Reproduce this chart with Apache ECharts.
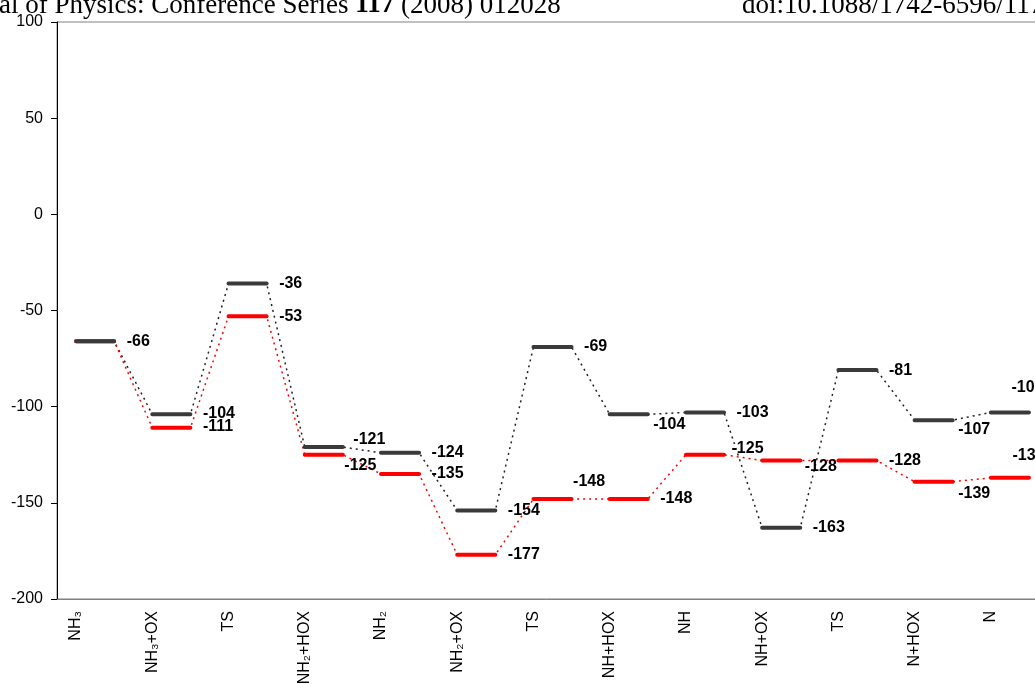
<!DOCTYPE html>
<html>
<head>
<meta charset="utf-8">
<script src="https://cdn.jsdelivr.net/npm/echarts@6/dist/echarts.min.js"></script>
<style>
html, body { margin: 0; padding: 0; background: #fff; }
#chart { width: 1035px; height: 684px; }
</style>
</head>
<body>
<div id="chart"></div>
<script>
// steps of the reaction path
const steps = ['NH₃', 'NH₃+OX', 'TS', 'NH₂+HOX', 'NH₂', 'NH₂+OX', 'TS', 'NH+HOX', 'NH', 'NH+OX', 'TS', 'N+HOX', 'N'];
// energy of each step, black and red path
const blackPath = [-66, -104, -36, -121, -124, -154, -69, -104, -103, -163, -81, -107, -103];
const redPath = [-66, -111, -53, -125, -135, -177, -148, -148, -125, -128, -128, -139, -137];
const yTicks = [-200, -150, -100, -50, 0, 50, 100];

// hand-moved value labels [dx, dy]; null = no label
const blackNudge = [[0, 0], [0, -1], [0, 0], [-2, -7], [0, 0], [0, 0], [0, 0], [-7, 10], [0, 0], [0, 0], [0, 0], [-7, 9], [-30, -25]];
const redNudge = [null, [0, -1], [0, 0], [-11, 11], [0, 0], [0, 0], [-11, -17], [0, 0], [-5, -6], [-8, 6], [0, 0], [-7, 12], [-29, -22]];

// every step takes two slots on the axis: start and end of its level
const slots = [];
steps.forEach(s => slots.push(s, ''));

function pathLine(vals) {
    const out = [];
    vals.forEach(v => out.push(v, v));
    return out;
}

// levels split in two series (even / odd steps) so they don't join up
function levels(vals, parity, nudge) {
    const out = new Array(vals.length * 2).fill('-');
    vals.forEach((v, i) => {
        if (i % 2 !== parity) return;
        out[2 * i] = v;
        out[2 * i + 1] = nudge[i] ? { value: v, label: { show: true, offset: nudge[i] } } : v;
    });
    return out;
}

const labelStyle = {
    show: false,
    position: 'right',
    distance: 12,
    color: '#000',
    fontFamily: 'Liberation Sans',
    fontSize: 16,
    fontWeight: 'bold'
};

function dotted(vals, color) {
    return {
        type: 'line',
        data: pathLine(vals),
        symbol: 'none',
        lineStyle: { color: color, width: 1.5, type: [2, 4] },
        silent: true
    };
}

function level(vals, parity, nudge, color) {
    return {
        type: 'line',
        data: levels(vals, parity, nudge),
        symbol: 'circle',
        symbolSize: 1,
        showAllSymbol: true,
        itemStyle: { color: 'transparent' },
        lineStyle: { color: color, width: 4, cap: 'round' },
        label: labelStyle,
        silent: true
    };
}

const chart = echarts.init(document.getElementById('chart'));
chart.setOption({
    animation: false,
    backgroundColor: '#fff',
    graphic: [
        {
            type: 'text',
            left: -1,
            top: -8,
            style: {
                text: 'al of Physics: Conference Series {b|117} (2008) 012028',
                fontFamily: 'Liberation Serif',
                fontSize: 27,
                fill: '#000',
                rich: { b: { fontFamily: 'Liberation Serif', fontSize: 27, fontWeight: 'bold' } }
            }
        },
        {
            type: 'text',
            left: 742,
            top: -8,
            style: {
                text: 'doi:10.1088/1742-6596/117/1/012028',
                fontFamily: 'Liberation Serif',
                fontSize: 27,
                fill: '#000'
            }
        }
    ],
    grid: {
        left: 57,
        top: 22,
        width: 991,
        bottom: 85,
        outerBoundsMode: 'none',
        containLabel: false,
        show: true,
        borderColor: '#808080',
        borderWidth: 1
    },
    xAxis: {
        type: 'category',
        data: slots,
        boundaryGap: true,
        axisLine: { onZero: false, lineStyle: { color: '#808080', width: 1 } },
        axisTick: { show: false },
        axisLabel: {
            interval: 0,
            rotate: 90,
            margin: 12,
            color: '#000',
            fontFamily: 'Liberation Sans',
            fontSize: 16
        },
        splitLine: { show: false }
    },
    yAxis: {
        type: 'value',
        min: yTicks[0],
        max: yTicks[yTicks.length - 1],
        interval: yTicks[1] - yTicks[0],
        axisLine: { show: true, lineStyle: { color: '#000', width: 1 } },
        axisTick: { show: true, length: 6, lineStyle: { color: '#000' } },
        axisLabel: { margin: 14, color: '#000', fontFamily: 'Liberation Sans', fontSize: 16 },
        splitLine: { show: false }
    },
    series: [
        dotted(blackPath, '#222'),
        dotted(redPath, '#ff0000'),
        level(redPath, 0, redNudge, '#ff0000'),
        level(redPath, 1, redNudge, '#ff0000'),
        level(blackPath, 0, blackNudge, '#3a3a3a'),
        level(blackPath, 1, blackNudge, '#3a3a3a')
    ]
});
</script>
</body>
</html>
